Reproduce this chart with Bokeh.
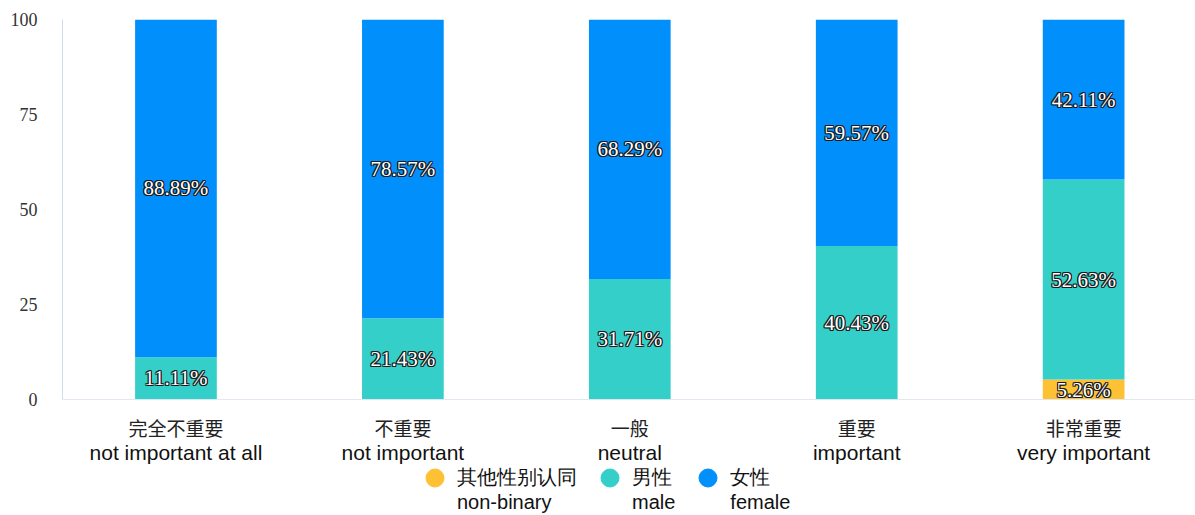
from bokeh.plotting import figure
from bokeh.models import (ColumnDataSource, Range1d, FixedTicker, Legend, LegendItem, Span)
from bokeh.embed import file_html
from bokeh.resources import INLINE
from bokeh.core.properties import value

categories_cn = ["完全不重要", "不重要", "一般", "重要", "非常重要"]
categories_en = ["not important at all", "not important", "neutral", "important", "very important"]
series_cn = ["其他性别认同", "男性", "女性"]
series_en = ["non-binary", "male", "female"]
nonbinary = [0, 0, 0, 0, 5.26]
male = [11.11, 21.43, 31.71, 40.43, 52.63]
female = [88.89, 78.57, 68.29, 59.57, 42.11]
y_ticks = [0, 25, 50, 75, 100]

colors = ["#FEC133", "#33CFC8", "#008FFB"]

xs = list(range(len(categories_cn)))
src = ColumnDataSource(dict(x=xs, nb=nonbinary, m=male, f=female))

p = figure(width=1195, height=515, output_backend="svg", toolbar_location=None,
           x_range=Range1d(-0.5, 4.493), y_range=Range1d(-30.5, 100),
           min_border_left=62, min_border_top=19, min_border_right=0, min_border_bottom=0)
p.outline_line_color = None
p.xgrid.visible = False
p.ygrid.visible = False

renderers = p.vbar_stack(["nb", "m", "f"], x="x", width=0.36, source=src,
                         color=colors, line_color=None)

# baseline (x axis line)
p.add_layout(Span(location=0, dimension="width", line_color="#e0e6f1", line_width=1))

# data labels: white text with thin dark outline
lx, ly, lt = [], [], []
for i in xs:
    bottom = 0
    for v in (nonbinary[i], male[i], female[i]):
        if v > 0:
            lx.append(i)
            ly.append(bottom + v / 2)
            lt.append(f"{v:.2f}%")
        bottom += v
lsrc = ColumnDataSource(dict(x=lx, y=ly, t=lt))
for dx, dy in [(-1, -1), (-1, 0), (-1, 1), (0, -1), (0, 1), (1, -1), (1, 0), (1, 1)]:
    p.text(x="x", y="y", text="t", source=lsrc, text_align="center", text_baseline="middle",
           text_font=value("Liberation Serif"), text_font_size="21px", text_color="#1a1a1a",
           x_offset=dx, y_offset=dy)
p.text(x="x", y="y", text="t", source=lsrc, text_align="center", text_baseline="middle",
       text_font=value("Liberation Serif"), text_font_size="21px", text_color="white")

# category labels below baseline
csrc = ColumnDataSource(dict(x=xs, y=[0] * len(xs), cn=categories_cn, en=categories_en))
p.text(x="x", y="y", text="cn", source=csrc, text_align="center", text_baseline="middle",
       text_font=value("Noto Sans CJK SC"), text_font_size="19px", text_color="#222222",
       y_offset=28)
p.text(x="x", y="y", text="en", source=csrc, text_align="center", text_baseline="middle",
       text_font=value("Liberation Sans"), text_font_size="21px", text_color="#111111",
       y_offset=53)

# y axis
p.yaxis.ticker = FixedTicker(ticks=y_ticks)
p.yaxis.bounds = (0, 100)
p.yaxis.major_tick_line_color = None
p.yaxis.minor_tick_line_color = None
p.yaxis.axis_line_color = "#d3dbee"
p.yaxis.major_label_text_font = "Liberation Serif"
p.yaxis.major_label_text_font_size = "18px"
p.yaxis.major_label_text_color = "#333333"
p.yaxis.major_label_standoff = 19

p.xaxis.visible = False

# legend (a blank first line keeps the marker level with the Chinese line)
items = []
for cn, en, c in zip(series_cn, series_en, colors):
    r = p.scatter(x=[0], y=[-100], size=18, color=c, marker="circle")
    items.append(LegendItem(label=f" \n{cn}\n{en}", renderers=[r]))
legend = Legend(items=items, orientation="horizontal", location=(350, 1),
                label_text_font="Liberation Sans", label_text_font_size="20px",
                label_text_color="#111111", label_text_line_height=1.2,
                border_line_color=None, background_fill_alpha=0,
                glyph_width=45, glyph_height=45, spacing=10, padding=0, margin=0,
                label_standoff=0)
p.add_layout(legend, "center")

open("out.html", "w").write(file_html(p, INLINE))
